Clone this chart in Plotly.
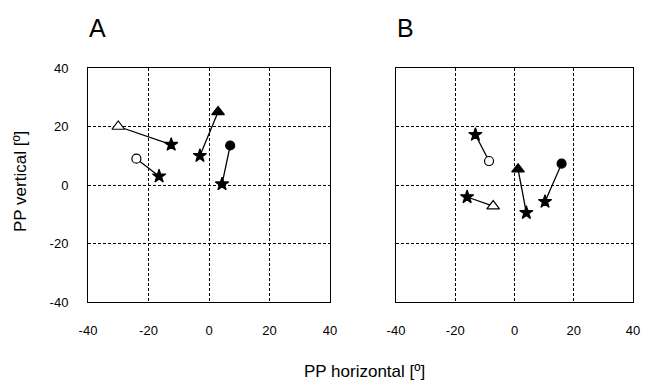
import plotly.graph_objects as go

# Panel A: pairs (start marker, star end)
a_sym = ["triangle-up", "circle", "triangle-up", "circle"]
a_fill = ["white", "white", "black", "black"]
a_x0 = [-30, -24, 3, 7]
a_y0 = [20, 9, 25, 13.5]
a_x1 = [-12.5, -16.5, -3, 4.3]
a_y1 = [13.8, 3, 10, 0.3]

# Panel B
b_sym = ["circle", "triangle-up", "triangle-up", "circle"]
b_fill = ["white", "white", "black", "black"]
b_x0 = [-8.6, -7.2, 1.2, 15.9]
b_y0 = [8.2, -7.2, 5.4, 7.3]
b_x1 = [-13.2, -16, 4, 10.3]
b_y1 = [17.2, -4.1, -9.5, -5.7]

ticks = [-40, -20, 0, 20, 40]
tick_labels = ["-40", "-20", "0", "20", "40"]

# page body has an 8px margin: figure placed at (8, 8)
OFF = 8
W, H = 649 - 2 * OFF, 385 - OFF

def px(x):
    return (x - OFF) / W

def py(y):
    return 1 - (y - OFF) / H

fig = go.Figure()

def add_panel(xs0, ys0, xs1, ys1, syms, fills, xa, ya):
    for x0, y0, x1, y1, s, f in zip(xs0, ys0, xs1, ys1, syms, fills):
        sz = 11 if s.startswith("triangle") else 9
        fig.add_trace(go.Scatter(
            x=[x1, x0], y=[y1, y0], xaxis=xa, yaxis=ya, mode="lines+markers",
            line=dict(color="black", width=1.3),
            marker=dict(symbol=["star", s], size=[10, sz], color=["black", f],
                        opacity=1, line=dict(color="black", width=1.2)),
            showlegend=False, hoverinfo="skip"))

add_panel(a_x0, a_y0, a_x1, a_y1, a_sym, a_fill, "x", "y")
add_panel(b_x0, b_y0, b_x1, b_y1, b_sym, b_fill, "x2", "y2")

FONT = "Liberation Sans, Arial, sans-serif"
tickfont = dict(family=FONT, size=13, color="black")
axcommon = dict(range=[-40, 40], tickvals=ticks, ticktext=tick_labels, showline=True,
                mirror=True, linecolor="black", linewidth=1, showgrid=True,
                gridcolor="black", griddash="3px,2px", gridwidth=1, zeroline=False,
                ticks="", tickfont=tickfont, fixedrange=True, automargin=False)

fig.update_layout(
    template="none",
    width=W, height=H, margin=dict(l=0, r=0, t=0, b=0, autoexpand=False),
    plot_bgcolor="white", paper_bgcolor="white",
    xaxis=dict(domain=[px(88), px(330)], anchor="y", ticklabelstandoff=16, **axcommon),
    yaxis=dict(domain=[py(302), py(68)], anchor="x", ticklabelstandoff=16, **axcommon),
    xaxis2=dict(domain=[px(396), px(633)], anchor="y2", ticklabelstandoff=16, **axcommon),
    yaxis2=dict(domain=[py(302), py(68)], anchor="x2", showticklabels=False, **axcommon),
    annotations=[
        dict(text="A", x=px(97), y=py(28), xref="paper", yref="paper", showarrow=False,
             xanchor="center", yanchor="middle",
             font=dict(family=FONT, size=25, color="black")),
        dict(text="B", x=px(405), y=py(28), xref="paper", yref="paper", showarrow=False,
             xanchor="center", yanchor="middle",
             font=dict(family=FONT, size=25, color="black")),
        dict(text="PP horizontal [º]", x=px(364), y=py(371), xref="paper", yref="paper",
             showarrow=False, xanchor="center", yanchor="middle",
             font=dict(family=FONT, size=17, color="black")),
        dict(text="PP vertical [º]", x=px(20), y=py(182), xref="paper", yref="paper",
             showarrow=False, textangle=-90, xanchor="center", yanchor="middle",
             font=dict(family=FONT, size=17, color="black")),
    ],
)

fig.write_html("out.html")
